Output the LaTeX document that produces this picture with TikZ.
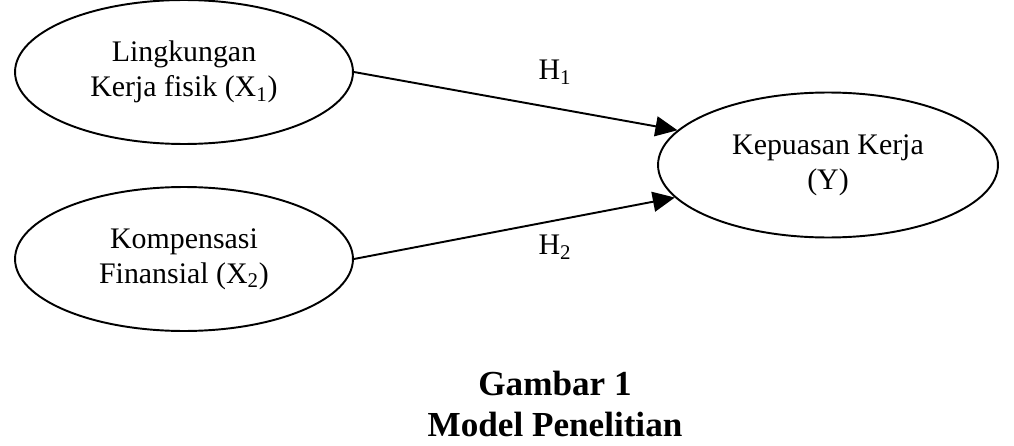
\documentclass[tikz,border=0pt]{standalone}
\usepackage{fontspec}
\setmainfont{Liberation Serif}
\usetikzlibrary{shapes.geometric, arrows.meta}

\begin{document}
\begin{tikzpicture}[x=0.02cm, y=-0.02cm,
  var/.style={ellipse, draw, line width=1.1pt, inner sep=0pt,
    minimum width=6.76cm, minimum height=2.88cm, align=center,
    font=\fontsize{17}{20}\selectfont},
  path/.style={line width=1.1pt, -{Triangle[length=0.44cm, width=0.4cm]}},
  hlab/.style={font=\fontsize{17}{20}\selectfont}]
\useasboundingbox (0,0) rectangle (1014,446);

\node[var] (X1) at (184,72) {Lingkungan\\Kerja fisik (X\textsubscript{1})};
\node[var] (X2) at (184,259) {Kompensasi\\Finansial (X\textsubscript{2})};
\node[var, minimum width=6.8cm, minimum height=2.9cm] (Y) at (828,165) {Kepuasan Kerja\\(Y)};

\draw[path] (X1.east) -- (Y.167);
\draw[path] (X2.east) -- (Y.192.5);

\node[hlab] (H1) at (555,72) {H\textsubscript{1}};
\node[hlab] (H2) at (555,247) {H\textsubscript{2}};

\node[align=center, inner sep=0pt, font=\fontsize{20}{23}\selectfont\bfseries] (cap) at (555,404) {Gambar 1\\Model Penelitian};
\end{tikzpicture}
\end{document}
